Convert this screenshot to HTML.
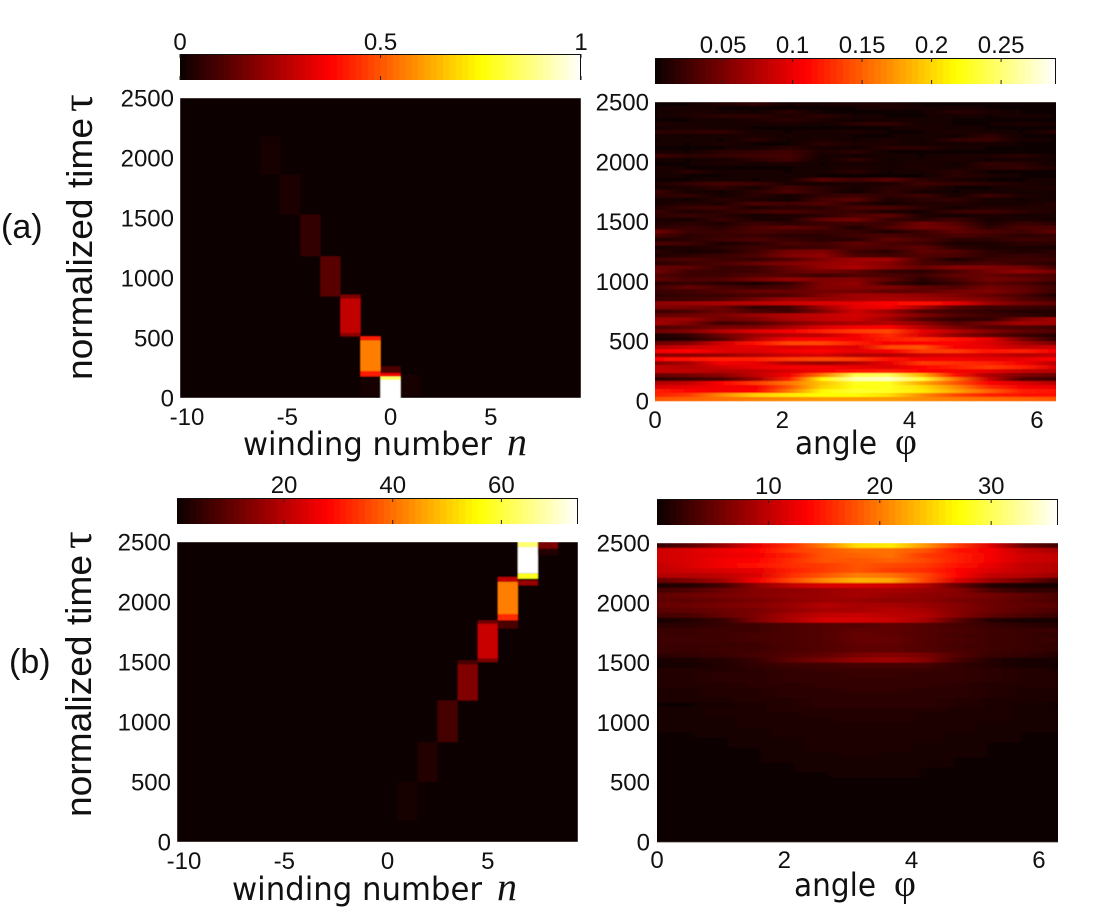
<!DOCTYPE html>
<html lang="en">
<head>
<meta charset="utf-8">
<title>Winding number and angle spectra over normalized time</title>
<style>
html,body{margin:0;padding:0;background:#fff;width:1106px;height:916px;overflow:hidden}
svg{display:block}
text{fill:#111;font-family:"Liberation Sans",Arial,sans-serif}
.tick{font-size:24px}
.ytitle{font-size:36px}
.xtitle{font-family:"DejaVu Sans","Liberation Sans",sans-serif;font-size:32px}
.sym{font-family:"Liberation Serif","DejaVu Serif",serif}
</style>
</head>
<body>
<svg id="figure" xmlns="http://www.w3.org/2000/svg" width="1106" height="916" viewBox="0 0 1106 916">
  <defs id="defs">
    <filter id="soft" x="0" y="0" width="1" height="1"><feGaussianBlur stdDeviation="0.3 0.5" edgeMode="duplicate"/></filter>
    <filter id="softBlock" x="0" y="0" width="1" height="1"><feGaussianBlur stdDeviation="0.5 0.6" edgeMode="duplicate"/></filter>
  </defs>
  <text x="1" y="238" font-size="34">(a)</text>
  <text x="9" y="673" font-size="34">(b)</text>

  <g transform="translate(92,380) rotate(-90)">
    <text class="ytitle" x="0" y="0" textLength="262" lengthAdjust="spacingAndGlyphs">normalized time</text>
    <text class="sym" x="268" y="0" style="font-size:44px">τ</text>
  </g>
  <g transform="translate(91,817) rotate(-90)">
    <text class="ytitle" x="0" y="0" textLength="262" lengthAdjust="spacingAndGlyphs">normalized time</text>
    <text class="sym" x="268" y="0" style="font-size:44px">τ</text>
  </g>

  <g>
    <text class="xtitle" x="243" y="455" textLength="249" lengthAdjust="spacingAndGlyphs">winding number</text>
    <text class="sym" x="507" y="455" font-size="40" font-style="italic">n</text>
  </g>
  <g>
    <text class="xtitle" x="795" y="454" textLength="82" lengthAdjust="spacingAndGlyphs">angle</text>
    <text class="sym" x="895" y="454" font-size="38">φ</text>
  </g>
  <g>
    <text class="xtitle" x="232" y="900" textLength="250" lengthAdjust="spacingAndGlyphs">winding number</text>
    <text class="sym" x="497" y="900" font-size="40" font-style="italic">n</text>
  </g>
  <g>
    <text class="xtitle" x="794" y="896" textLength="82" lengthAdjust="spacingAndGlyphs">angle</text>
    <text class="sym" x="894" y="896" font-size="38">φ</text>
  </g>
</svg>

<script>
/* ---------- shared tick labels ---------- */
var timeTicks = [0, 500, 1000, 1500, 2000, 2500];
var windingTicks = [-10, -5, 0, 5];
var angleTicks = [0, 2, 4, 6];

/* ---------- colorbar ranges and ticks ---------- */
var cbarARange = [0, 1];
var cbarATicks = [0, 0.5, 1];
var cbarBRange = [0.001, 0.2895];
var cbarBTicks = [0.05, 0.1, 0.15, 0.2, 0.25];
var cbarCRange = [0.3, 74.1];
var cbarCTicks = [20, 40, 60];
var cbarDRange = [0, 36];
var cbarDTicks = [10, 20, 30];

/* ---------- panel (a) left: winding-number blocks ---------- */
var aN     = [-6, -5, -4, -3, -2, -2, -2, -1, -1, -1, -1, 0, 0, 0, 0, 1];
var aStart = [1861, 1528, 1181, 847, 514, 540, 830, 14, 180, 225, 480, 0, 150, 180, 208, 14];
var aEnd   = [2181, 1861, 1528, 1181, 540, 830, 861, 180, 225, 480, 514, 150, 180, 208, 264, 194];
var aValue = [0.012, 0.025, 0.06, 0.12, 0.2, 0.28, 0.18, 0.012, 0.42, 0.56, 0.42, 1, 0.85, 0.36, 0.1, 0.012];

/* ---------- panel (b) left: winding-number blocks ---------- */
var bN     = [1, 2, 3, 4, 4, 5, 5, 5, 6, 6, 6, 6, 7, 7, 7, 7, 8, 8];
var bStart = [180, 500, 833, 1180, 1480, 1500, 1530, 1820, 1780, 1847, 1900, 2167, 2139, 2194, 2240, 2458, 2389, 2444];
var bEnd   = [500, 833, 1180, 1480, 1514, 1530, 1820, 1847, 1847, 1900, 2167, 2208, 2180, 2240, 2458, 2500, 2444, 2500];
var bValue = [0.015, 0.035, 0.09, 0.18, 0.1, 0.18, 0.29, 0.16, 0.1, 0.44, 0.56, 0.28, 0.22, 0.78, 1, 0.86, 0.04, 0.17];

/* ---------- panel (a) right: angle spectrum, percent of colorbar, rows top to bottom ---------- */
var angleValuesA = [
[1,1,3,6,1,2,3,3,1,1,1,1,1],
[1,2,1,1,1,1,1,3,2,2,1,1,1],
[1,3,2,1,5,1,1,1,1,5,3,1,1],
[1,3,5,5,3,5,2,1,1,2,1,2,1],
[1,1,2,3,5,3,1,2,2,1,1,1,1],
[3,2,2,2,3,1,5,6,2,1,1,3,2],
[1,3,2,1,1,1,1,1,3,2,1,1,1],
[5,5,6,2,1,2,3,1,1,3,2,1,5],
[2,1,2,3,2,2,1,1,2,1,6,1,1],
[1,2,1,5,1,3,1,3,1,6,7,2,1],
[2,1,3,1,1,5,3,3,1,2,2,1,1],
[1,1,1,2,5,2,1,5,5,2,1,1,1],
[2,1,5,6,8,3,5,1,1,1,1,1,1],
[8,5,6,8,9,2,1,2,1,3,3,5,1],
[2,1,2,5,8,1,6,1,2,3,1,2,1],
[1,1,3,2,3,1,2,2,3,1,6,5,1],
[3,1,1,1,1,2,3,2,3,2,5,6,3],
[1,5,2,2,1,2,5,1,2,5,1,1,1],
[2,1,1,2,2,1,1,1,1,5,3,1,1],
[1,1,2,1,2,12,8,12,5,3,1,1,2],
[3,6,9,8,3,2,3,3,8,6,5,3,2],
[2,3,6,2,9,5,2,5,5,1,1,3,3],
[8,2,1,5,10,5,1,6,2,1,2,2,2],
[5,6,2,5,2,6,8,5,8,2,8,3,1],
[2,1,5,3,1,9,12,3,5,6,2,1,2],
[2,4,3,10,8,11,5,2,4,4,2,2,4],
[4,7,8,3,5,5,10,10,5,2,4,4,4],
[7,3,5,8,10,7,7,3,2,7,8,5,3],
[5,7,5,2,3,5,10,13,3,2,3,2,2],
[3,2,7,3,3,13,16,7,5,8,2,3,2],
[3,5,3,8,5,7,8,8,16,11,3,7,5],
[5,7,5,10,13,10,3,10,16,14,5,10,10],
[16,7,7,10,8,7,7,3,8,13,10,8,13],
[10,5,7,7,5,5,8,10,7,10,8,5,7],
[3,5,8,10,7,5,5,13,10,5,5,8,7],
[10,8,3,5,10,8,13,10,8,3,3,5,5],
[2,3,5,8,7,8,11,10,13,5,3,3,2],
[5,2,3,8,16,18,8,5,13,11,5,3,5],
[3,5,7,10,18,21,10,8,11,10,5,7,5],
[8,10,8,7,11,18,23,23,10,3,7,8,7],
[5,7,10,14,18,21,23,19,10,8,10,7,5],
[14,13,7,8,14,21,25,19,14,19,18,16,8],
[16,8,7,8,13,16,13,7,5,10,16,21,16],
[11,8,8,11,11,8,11,10,8,13,14,11,10],
[13,10,11,16,21,18,18,13,5,10,16,14,10],
[5,7,5,3,7,18,21,8,3,7,13,10,5],
[8,14,10,8,10,18,19,18,13,11,16,13,8],
[7,8,11,14,14,16,16,13,13,16,18,14,7],
[5,7,8,10,11,18,23,23,21,18,14,10,3],
[7,8,10,16,23,21,23,25,23,21,18,11,7],
[20,22,25,27,29,32,34,38,40,34,22,16,13],
[18,17,15,6,8,22,33,35,24,11,8,8,6],
[8,10,15,10,8,18,30,22,11,8,6,4,4],
[13,15,17,22,26,28,31,26,18,11,8,6,4],
[22,22,15,18,24,28,30,22,11,6,6,18,24],
[24,18,8,11,17,22,24,26,20,11,17,24,22],
[10,13,17,18,24,32,36,38,26,17,11,10,8],
[15,18,26,32,36,42,46,48,34,26,18,13,11],
[3,6,15,22,26,28,36,44,32,20,13,8,4],
[2,4,11,26,36,38,36,42,44,40,34,17,6],
[15,18,30,40,48,48,42,36,38,38,32,24,17],
[26,30,32,34,32,34,32,48,50,36,34,28,30],
[36,38,33,32,36,38,34,36,46,46,40,42,36],
[20,20,22,26,30,32,26,26,30,32,30,26,28],
[38,40,42,42,46,48,46,40,36,36,34,34,38],
[19,24,36,34,26,22,26,34,46,44,42,36,26],
[28,26,30,34,36,36,34,32,38,42,46,42,32],
[28,28,26,28,32,36,40,42,38,36,34,28,26],
[14,16,20,28,36,55,82,84,64,40,25,18,14],
[6,8,10,22,42,74,92,94,80,55,30,10,8],
[26,28,38,46,55,66,78,78,62,50,38,32,26],
[32,34,36,36,50,68,76,78,70,58,44,36,34],
[42,38,36,38,55,74,80,78,72,62,52,42,40],
[42,46,58,68,72,75,75,70,58,48,42,40,40],
[50,52,54,56,58,60,60,60,58,56,54,52,50]
];

/* ---------- panel (b) right: angle spectrum, percent of colorbar, rows top to bottom ---------- */
var angleValuesB = [
[6,12,22,34,44,56,70,72,60,46,32,14,8],
[30,32,35,38,46,50,54,54,50,40,36,28,24],
[30,32,34,36,42,50,52,54,46,42,36,30,28],
[30,32,36,38,44,50,50,52,48,42,36,30,28],
[28,32,36,40,44,46,50,48,46,40,34,28,26],
[28,30,32,34,42,46,50,46,44,38,32,28,26],
[26,26,28,32,44,50,56,54,48,38,28,26,22],
[14,18,24,36,48,58,64,62,48,32,22,16,8],
[3,4,9,20,28,32,32,30,26,14,4,2,2],
[9,11,15,19,20,22,24,24,22,19,10,6,6],
[13,15,17,19,21,22,24,22,20,19,16,13,10],
[13,13,15,17,20,22,22,20,20,17,15,12,10],
[14,15,17,19,22,26,24,24,22,19,15,13,12],
[12,13,15,17,21,24,24,26,24,19,15,12,10],
[9,10,14,18,24,28,29,27,26,19,13,10,7],
[2,4,7,18,25,31,31,29,24,12,4,2,2],
[5,5,7,8,10,11,11,13,11,9,7,5,4],
[7,7,8,8,10,11,13,13,11,10,8,7,7],
[7,7,8,9,10,11,14,13,11,9,8,7,6],
[8,8,8,9,10,11,14,14,11,10,8,7,7],
[7,7,7,8,10,11,13,13,11,9,8,7,6],
[7,7,8,8,10,11,13,13,11,10,8,7,6],
[5,6,7,9,11,13,17,19,17,11,7,6,4],
[2,3,4,7,13,17,21,23,19,9,4,2,2],
[1,2,4,6,8,8,9,9,9,6,4,2,1],
[4,4,4,5,6,7,7,7,7,6,5,4,3],
[4,4,5,5,6,6,7,7,6,6,5,4,4],
[4,4,5,5,6,6,6,6,6,6,5,4,4],
[4,4,4,5,5,6,6,6,6,5,4,4,4],
[3,3,4,4,5,5,6,6,5,5,4,3,3],
[3,3,4,4,5,5,5,5,5,5,4,3,3],
[3,3,3,4,4,5,5,5,5,4,3,3,3],
[1,1,2,3,4,5,5,5,5,4,3,2,1],
[2,2,3,3,4,4,4,4,4,3,3,2,2],
[2,2,3,3,3,4,4,4,3,3,3,2,2],
[2,2,2,3,3,3,4,4,3,3,3,2,2],
[2,2,2,3,3,3,3,3,3,3,2,2,2],
[2,2,2,2,3,3,3,3,3,3,2,2,2],
[1,1,2,2,3,3,3,3,3,2,2,1,1],
[1,1,1,2,2,3,3,3,3,2,2,1,1],
[1,1,1,2,2,3,3,3,2,2,1,1,1],
[1,1,1,1,2,3,3,3,2,2,1,1,1],
[1,1,1,1,2,2,3,2,2,2,1,1,1],
[1,1,1,1,2,2,2,2,2,1,1,1,1],
[1,1,1,1,1,2,2,2,2,1,1,1,1],
[1,1,1,1,1,2,2,2,1,1,1,1,1],
[1,1,1,1,1,1,2,2,1,1,1,1,1],
[1,1,1,1,1,1,1,1,1,1,1,1,1],
[1,1,1,1,1,1,1,1,1,1,1,1,1],
[1,1,1,1,1,1,1,1,1,1,1,1,1],
[0,1,1,1,1,1,1,1,1,1,1,1,0],
[0,0,1,1,1,1,1,1,1,1,1,0,0],
[0,0,0,1,1,1,1,1,1,1,0,0,0],
[0,0,0,0,1,1,1,1,1,0,0,0,0],
[0,0,0,0,0,1,1,1,0,0,0,0,0],
[0,0,0,0,0,0,0,0,0,0,0,0,0],
[0,0,0,0,0,0,0,0,0,0,0,0,0],
[0,0,0,0,0,0,0,0,0,0,0,0,0],
[0,0,0,0,0,0,0,0,0,0,0,0,0],
[0,0,0,0,0,0,0,0,0,0,0,0,0]
];

var SVGNS = 'http://www.w3.org/2000/svg';
var figure = document.getElementById('figure');
var defs = document.getElementById('defs');
var gradientCount = 0;

function make(tag, attrs, parent) {
  var el = document.createElementNS(SVGNS, tag);
  for (var k in attrs) el.setAttribute(k, attrs[k]);
  (parent || figure).appendChild(el);
  return el;
}
function clamp01(v) { return Math.max(0, Math.min(1, v)); }
function hot(v) {
  var r = clamp01(0.04 + v / 0.375 * 0.96);
  var g = clamp01((v - 0.375) / 0.375);
  var b = clamp01((v - 0.75) / 0.25);
  return 'rgb(' + Math.round(r * 255) + ',' + Math.round(g * 255) + ',' + Math.round(b * 255) + ')';
}
function linear(d0, d1, r0, r1) {
  return function (v) { return r0 + (v - d0) / (d1 - d0) * (r1 - r0); };
}
function drawText(label, x, y, anchor, name) {
  var t = make('text', { x: x, y: y, 'text-anchor': anchor, 'class': 'tick' });
  
  
  t.textContent = label;
  return t;
}

function drawColorbar(name, box, range, ticks, labelY) {
  var g = make('g', {});
  
  
  var sx = linear(range[0], range[1], box.x, box.x + box.w);
  var steps = 64;
  for (var i = 0; i < steps; i++) {
    var seg = make('rect', {
      x: box.x + i * box.w / steps, y: box.y,
      width: box.w / steps + 0.5, height: box.h,
      fill: hot((i + 0.5) / steps)
    }, g);
    
    
  }
  var frameRight = box.x + box.w - 0.5;
  var frame = make('path', {
    d: 'M' + box.x + ' ' + (box.y + 0.5) + 'H' + frameRight + 'V' + (box.y + box.h),
    fill: 'none', stroke: '#111', 'stroke-width': 1
  }, g);
  
  
  ticks.forEach(function (t) {
    var x = sx(t);
    var top = make('line', { x1: x, x2: x, y1: box.y, y2: box.y + 4, stroke: '#222', 'stroke-width': 1 }, g);
    
    
    var bot = make('line', { x1: x, x2: x, y1: box.y + box.h - 4, y2: box.y + box.h, stroke: '#222', 'stroke-width': 1 }, g);
    
    
    drawText(String(t), x, labelY, 'middle', 'colorbar-tick-label');
  });
}

function drawTimeAxis(box, labelRight) {
  var sy = linear(0, 2500, box.y + box.h, box.y);
  timeTicks.forEach(function (t) {
    drawText(String(t), labelRight, sy(t) + 8.5, 'end', 'y-tick-label');
  });
  return sy;
}

function drawWindingPanel(name, box, nValues, starts, ends, values, labelY) {
  var sy = drawTimeAxis(box, 174 - (box.x < 178 ? 3 : 0));
  var sx = linear(-10.5, 9.5, box.x, box.x + box.w);
  var g = make('g', { filter: 'url(#softBlock)' });
  
  
  var bg = make('rect', { x: box.x, y: box.y, width: box.w, height: box.h, fill: hot(0) }, g);
  
  
  nValues.forEach(function (n, i) {
    var cell = make('rect', {
      x: sx(n - 0.5), width: sx(n + 0.5) - sx(n - 0.5),
      y: sy(ends[i]), height: sy(starts[i]) - sy(ends[i]),
      fill: hot(values[i])
    }, g);
    
    
  });
  windingTicks.forEach(function (t) {
    drawText(String(t), sx(t) + (t < 0 ? -3 : 0), labelY, 'middle', 'x-tick-label');
  });
}

function drawAnglePanel(name, box, rows, labelY, labelRight) {
  var sy = drawTimeAxis(box, labelRight);
  var sx = linear(0, 6.3, box.x, box.x + box.w);
  var g = make('g', { filter: 'url(#soft)' });
  
  
  var bg = make('rect', { x: box.x, y: box.y, width: box.w, height: box.h, fill: hot(0) }, g);
  
  
  var step = 2500 / rows.length;
  rows.forEach(function (row, r) {
    var id = 'rowGrad' + (gradientCount++);
    var grad = make('linearGradient', { id: id, x1: 0, x2: 1, y1: 0, y2: 0 }, defs);
    row.forEach(function (v, c) {
      make('stop', { offset: c / (row.length - 1), 'stop-color': hot(v / 100) }, grad);
    });
    var tauTop = 2500 - r * step;
    var strip = make('rect', {
      x: box.x, width: box.w,
      y: sy(tauTop), height: sy(tauTop - step) - sy(tauTop) + 0.4,
      fill: 'url(#' + id + ')'
    }, g);
    
    
  });
  angleTicks.forEach(function (t) {
    drawText(String(t), sx(t), labelY, 'middle', 'x-tick-label');
  });
}

var boxAL = { x: 180, y: 98, w: 401, h: 300 };
var boxAR = { x: 655, y: 102, w: 401, h: 299 };
var boxBL = { x: 177, y: 542, w: 401, h: 300 };
var boxBR = { x: 657, y: 543, w: 401, h: 299 };

drawColorbar('colorbar-a-left', { x: 180, y: 54, w: 401, h: 26 }, cbarARange, cbarATicks, 50);
drawColorbar('colorbar-a-right', { x: 655, y: 58, w: 401, h: 26 }, cbarBRange, cbarBTicks, 53);
drawColorbar('colorbar-b-left', { x: 177, y: 498, w: 401, h: 26 }, cbarCRange, cbarCTicks, 493);
drawColorbar('colorbar-b-right', { x: 657, y: 499, w: 401, h: 26 }, cbarDRange, cbarDTicks, 494);

drawWindingPanel('heatmap-a-winding', boxAL, aN, aStart, aEnd, aValue, 425);
drawAnglePanel('heatmap-a-angle', boxAR, angleValuesA, 428, 649);
drawWindingPanel('heatmap-b-winding', boxBL, bN, bStart, bEnd, bValue, 869);
drawAnglePanel('heatmap-b-angle', boxBR, angleValuesB, 868, 650);
</script>
</body>
</html>
